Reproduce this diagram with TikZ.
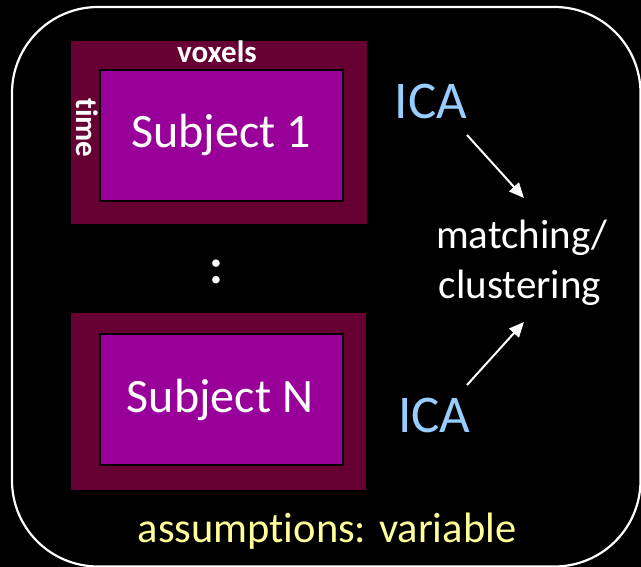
\documentclass[tikz,border=0pt]{standalone}
\usepackage{fontspec}
\setmainfont{Carlito}[Ligatures=NoCommon]
\usetikzlibrary{arrows.meta}
\definecolor{boxmaroon}{HTML}{660033}
\definecolor{subjpurple}{HTML}{990099}
\definecolor{icablue}{HTML}{99CCFF}
\definecolor{assumyellow}{HTML}{FFFF99}
\begin{document}
\begin{tikzpicture}[x=1bp,y=-1bp,
  outerbox/.style={fill=boxmaroon, draw=none, inner sep=0pt, minimum width=296bp, minimum height=183bp},
  innerbox/.style={fill=subjpurple, draw=black, line width=2.5bp, inner sep=0pt, minimum width=243bp, minimum height=131bp},
  subjtext/.style={text=white, inner sep=0pt, anchor=base, font=\fontsize{48bp}{58bp}\selectfont},
  smalllabel/.style={text=white, inner sep=0pt, font=\bfseries\fontsize{31bp}{36bp}\selectfont},
  icatext/.style={text=icablue, inner sep=0pt, anchor=base, font=\fontsize{53bp}{64bp}\selectfont},
  midtext/.style={text=white, inner sep=0pt, anchor=base, font=\fontsize{41bp}{50bp}\selectfont},
  conn/.style={draw=white, line width=2bp, -{Triangle[length=15bp,width=13bp]}}
]
\useasboundingbox (0,0) rectangle (641,567);
\fill[black] (0,0) rectangle (641,567);
\begin{scope}
  \clip (0,0) rectangle (641,567);
  \draw[white, line width=2.2bp, rounded corners=86bp] (12,7) rectangle (640.5,566.5);
\end{scope}

% subject 1
\node[outerbox] (outer1) at (219,132.5) {};
\node[innerbox] (inner1) at (221.5,135.5) {};
\node[subjtext] (subj1) at (221,148) {Subject 1};
\node[smalllabel, anchor=base] (voxels) at (217,63) {voxels};
\node[smalllabel, rotate=-90, anchor=center] (time) at (87,128) {time};

% dots
\node[text=white, inner sep=0pt, anchor=base, font=\bfseries\fontsize{50bp}{50bp}\selectfont] (dots) at (216,283) {:};

% subject N
\node[outerbox, minimum width=295bp, minimum height=177bp] (outerN) at (218.5,401.5) {};
\node[innerbox] (innerN) at (221.5,399.5) {};
\node[subjtext] (subjN) at (220,412) {Subject N};

% ICA and matching
\node[icatext] (ica1) at (431,119) {ICA};
\node[icatext] (ica2) at (434.5,432) {ICA};
\node[midtext] (match1) at (522,248) {matching/};
\node[midtext] (match2) at (520,298) {clustering};

\coordinate (a1s) at (467,135);
\coordinate (a1e) at (524,198);
\coordinate (a2s) at (467,385);
\coordinate (a2e) at (524,322);
\draw[conn] (a1s) -- (a1e);
\draw[conn] (a2s) -- (a2e);

% assumptions
\node[text=assumyellow, inner sep=0pt, anchor=base, font=\fontsize{42.5bp}{48bp}\selectfont] (assum) at (327,542) {assumptions: variable};
\end{tikzpicture}
\end{document}
